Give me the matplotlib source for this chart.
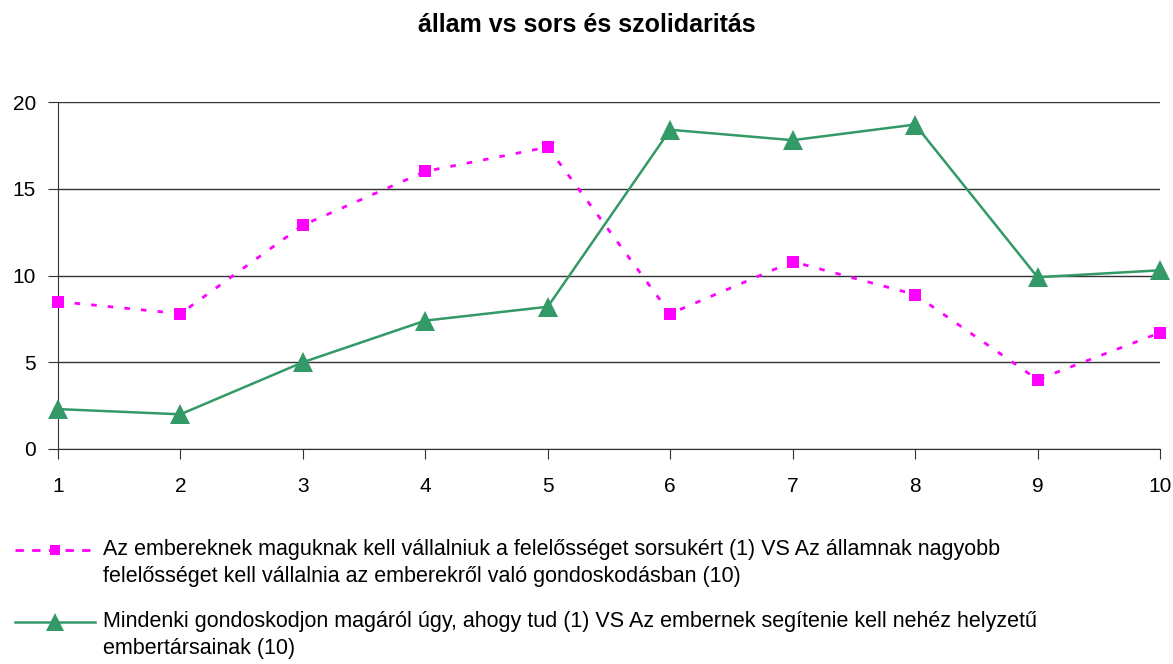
import matplotlib

matplotlib.use("Agg")
import matplotlib.pyplot as plt
from matplotlib.lines import Line2D

plt.rcParams["font.family"] = ["Liberation Sans", "DejaVu Sans"]

title = "állam vs sors és szolidaritás"
x_values = [1, 2, 3, 4, 5, 6, 7, 8, 9, 10]
series_pink = [8.5, 7.8, 12.9, 16.0, 17.4, 7.8, 10.8, 8.9, 4.0, 6.7]
series_green = [2.3, 2.0, 5.0, 7.4, 8.2, 18.4, 17.8, 18.7, 9.9, 10.3]
label_pink = ("Az embereknek maguknak kell vállalniuk a felelősséget sorsukért (1) VS Az államnak nagyobb\n"
              "felelősséget kell vállalnia az emberekről való gondoskodásban (10)")
label_green = ("Mindenki gondoskodjon magáról úgy, ahogy tud (1) VS Az embernek segítenie kell nehéz helyzetű\n"
               "embertársainak (10)")
y_ticks = [0, 5, 10, 15, 20]

PINK = "#FF00FF"
GREEN = "#339966"
W, H = 1173, 664

fig = plt.figure(figsize=(W / 100, H / 100), dpi=100)
ax = fig.add_axes([58 / W, 1 - 449 / H, (1160 - 58) / W, (449 - 102) / H])

pink_style = dict(color=PINK, lw=2, ls=(0, (2, 4)), marker="s", markersize=8.5, markeredgewidth=0)
green_style = dict(color=GREEN, lw=1.8, marker="^", markersize=14, markeredgewidth=0)

ax.plot(x_values, series_pink, clip_on=False, zorder=3, **pink_style)
ax.plot(x_values, series_green, clip_on=False, zorder=3, **green_style)

ax.set_xlim(1, 10)
ax.set_ylim(0, 20)
ax.set_xticks(x_values)
ax.set_yticks(y_ticks)
ax.yaxis.grid(True, color="#333333", lw=1)
ax.set_axisbelow(True)
for side in ["top", "right"]:
    ax.spines[side].set_visible(False)
for side in ["left", "bottom"]:
    ax.spines[side].set_color("#333333")
ax.tick_params(axis="both", direction="out", length=7, color="#333333", labelsize=15)
ax.tick_params(axis="x", pad=13)
ax.tick_params(axis="y", pad=9)
fig.text(0.5, 1 - 25 / H, title, ha="center", va="center", fontsize=18, fontweight="bold")

# legend drawn by hand so the handle sits on the first text line
legend_lines = [
    (dict(color=PINK, lw=2, ls=(0, (3, 3))), pink_style, label_pink, 550),
    (dict(color=GREEN, lw=1.8), green_style, label_green, 622),
]
for line_style, style, label, y_px in legend_lines:
    y = 1 - y_px / H
    fig.add_artist(Line2D([15 / W, 95 / W], [y, y], transform=fig.transFigure, **line_style))
    fig.add_artist(Line2D([55 / W], [y], transform=fig.transFigure, ls="none",
                          marker=style["marker"], markersize=style["markersize"] * 0.9,
                          markeredgewidth=0, color=style["color"]))
    fig.text(103 / W, y + 11 / H, label, ha="left", va="top", fontsize=15.5, linespacing=1.35)

fig.savefig("out.png", dpi=100)
